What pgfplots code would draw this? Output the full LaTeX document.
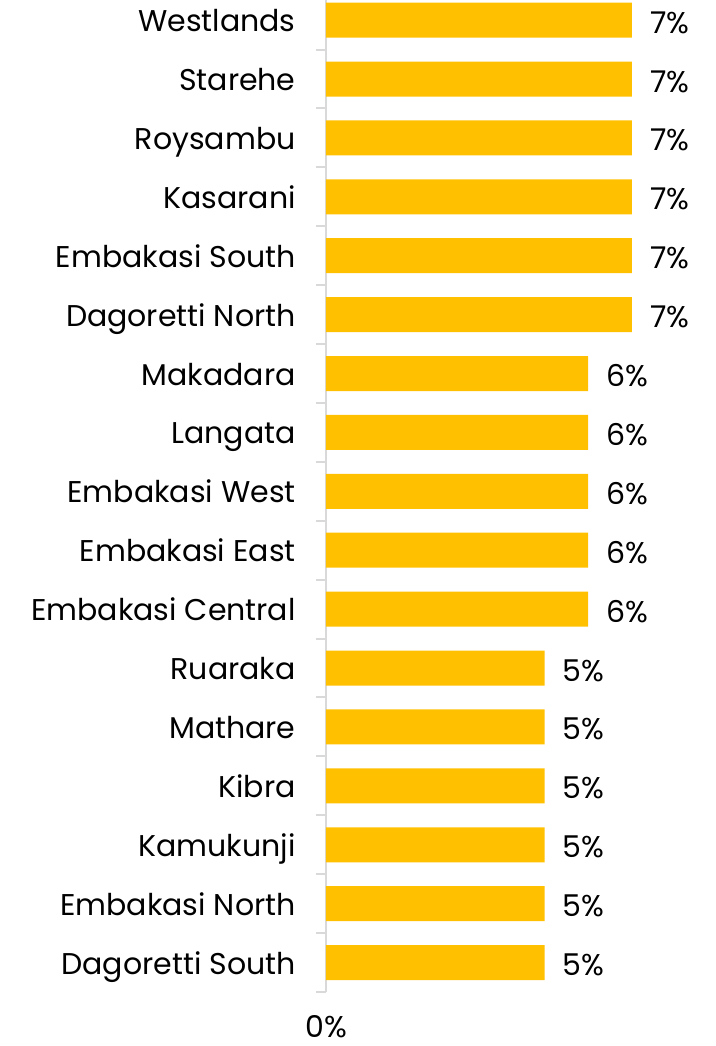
\documentclass[border=0pt]{standalone}
\usepackage{pgfplots}
\pgfplotsset{compat=1.18}
\usepackage{fontspec}
\setmainfont{Poppins}
\definecolor{baryellow}{HTML}{FFC000}
\definecolor{axisgray}{HTML}{D9D9D9}
\begin{document}
\begin{tikzpicture}
  % fixed page: 716x1046 px at 0.5pt per px
  \useasboundingbox (0,0) rectangle (358pt,523pt);
  \begin{axis}[
      at={(163pt,27pt)}, anchor=south west,
      xbar,
      scale only axis,
      width=185.75pt, height=500.65pt,
      xmin=0, xmax=8.5,
      ymin=-0.5, ymax=16.5,
      bar width=17.5pt,
      axis lines*=left,
      axis line style={-},
      x axis line style={draw=none},
      y axis line style={axisgray, line width=1pt},
      %
      xtick={0}, xticklabels={0\%},
      xtick pos=bottom,
      xticklabel style={inner sep=0pt, anchor=base, yshift=-22.5pt},
      %
      ytick={0,...,16},
      yticklabels={Dagoretti South,Embakasi North,Kamukunji,Kibra,Mathare,Ruaraka,
        Embakasi Central,Embakasi East,Embakasi West,Langata,Makadara,
        Dagoretti North,Embakasi South,Kasarani,Roysambu,Starehe,Westlands},
      ytick pos=left,
      minor ytick={-0.5,0.5,...,16.5},
      yticklabel style={inner sep=0pt, anchor=base east, xshift=-15pt, yshift=-5.75pt},
      major tick length=0pt,
      minor tick length=5pt,
      tick align=outside,
      minor tick style={axisgray, line width=1pt},
      tick label style={font=\fontsize{15}{18}\selectfont, text=black},
      %
      nodes near coords={\pgfmathprintnumber{\pgfplotspointmeta}\%},
      nodes near coords align={horizontal},
      every node near coord/.append style={font=\fontsize{15}{18}\selectfont,
        inner sep=0pt, anchor=base west, xshift=9pt, yshift=-6.5pt, text=black},
      /pgf/number format/assume math mode=true,
    ]
    \addplot[fill=baryellow, draw=none] coordinates {
        (5,0) (5,1) (5,2) (5,3) (5,4) (5,5)
        (6,6) (6,7) (6,8) (6,9) (6,10)
        (7,11) (7,12) (7,13) (7,14) (7,15) (7,16)
      };
  \end{axis}
\end{tikzpicture}
\end{document}
